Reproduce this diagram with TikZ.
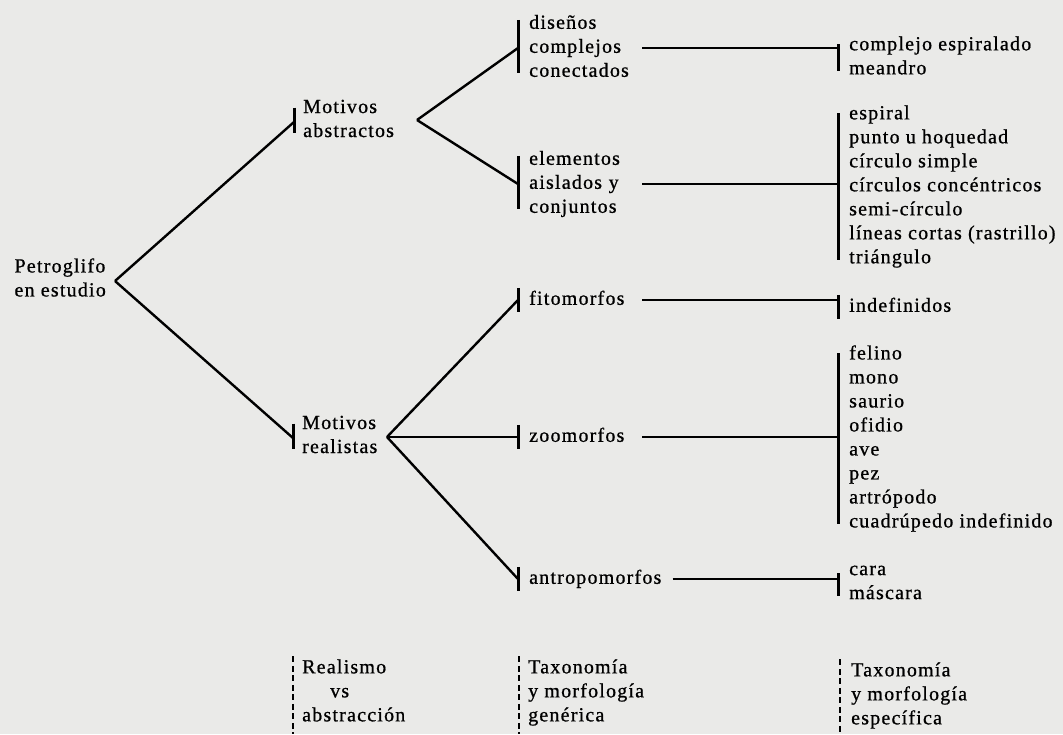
\documentclass[tikz,border=0pt]{standalone}
\usepackage{fontspec}
\newfontfamily\scanfont[LetterSpace=6, FakeBold=0.8]{Liberation Serif}
\usetikzlibrary{positioning}
\definecolor{paper}{RGB}{234,234,232}

\begin{document}
\begin{tikzpicture}[x=1pt,y=-1pt,
	every node/.style={font=\scanfont\fontsize{20}{24}\selectfont, inner xsep=9pt, inner ysep=0pt,
		align=left, anchor=west, execute at begin node=\strut, execute at end node=\strut},
	mid/.style={inner xsep=11pt, text width=102pt},
	spec/.style={inner xsep=11pt},
	link/.style={line width=2.4pt},
	bar/.style={line width=3pt, shorten <=8pt, shorten >=11pt},
	tallbar/.style={line width=3pt},
	guide/.style={line width=2.4pt, dash pattern=on 6pt off 3.5pt}]
	% Page %
	\fill [paper] (0,0) rectangle (1063,734);
	\useasboundingbox (0,0) rectangle (1063,734);
	\coordinate (pagebottom) at (0,734);
	% Root %
	\node [anchor=east] (root) at (115,281) {Petroglifo\\en estudio};
	% Motivos %
	\node (motabs) at (294,122) {Motivos\\abstractos};
	\node (motreal) at (293,438) {Motivos\\realistas};
	\coordinate (forkabs) at (417,120);
	\coordinate (forkreal) at (387,437);
	% Generic forms %
	\node [mid] (disenos) at (518,48) {diseños\\complejos\\conectados};
	\node [mid] (elementos) at (518,184) {elementos\\aislados y\\conjuntos};
	\node [mid] (fito) at (518,300) {fitomorfos};
	\node [mid] (zoo) at (518,437) {zoomorfos};
	\node [spec] (antropo) at (518,579) {antropomorfos};
	% Specific forms %
	\node [spec] (espiralado) at (838,59) {complejo espiralado\\meandro};
	\node [spec] (formas) at (838,188) {espiral\\punto u hoquedad\\círculo simple\\círculos concéntricos\\semi-círculo\\líneas cortas (rastrillo)\\triángulo};
	\node [spec] (indef) at (838,307) {indefinidos};
	\node [spec] (fauna) at (838,440) {felino\\mono\\saurio\\ofidio\\ave\\pez\\artrópodo\\cuadrúpedo indefinido};
	\node [spec] (cara) at (838,586) {cara\\máscara};
	% Levels %
	\node (realismo) at (293,694) {Realismo\\\hspace*{28pt}vs\\abstracción};
	\node (taxgen) at (519,694) {Taxonomía\\y morfología\\genérica};
	\node [spec] (taxesp) at (840,697) {Taxonomía\\y morfología\\específica};
	% Branches %
	\draw [link] (root.east) -- (motabs.west);
	\draw [link] (root.east) -- (motreal.west);
	\draw [link] (forkabs) -- (disenos.west);
	\draw [link] (forkabs) -- (elementos.west);
	\draw [link] (forkreal) -- (fito.west);
	\draw [link] (forkreal) -- (zoo.west);
	\draw [link] (forkreal) -- (antropo.west);
	\draw [link] (disenos.east) -- (disenos.east -| espiralado.west);
	\draw [link] (elementos.east) -- (elementos.east -| formas.west);
	\draw [link] (fito.east) -- (fito.east -| indef.west);
	\draw [link] (zoo.east) -- (zoo.east -| fauna.west);
	\draw [link] (antropo.east) -- (antropo.east -| cara.west);
	% Bars %
	\foreach \n in {motabs, motreal, disenos, elementos, espiralado, formas, fauna, cara}
		{\draw [bar] (\n.north west) -- (\n.south west);}
	\foreach \n in {fito, zoo, antropo, indef}
		{\draw [tallbar] (\n.north west) -- (\n.south west);}
	% Dashed guides %
	\foreach \n in {realismo, taxgen, taxesp}
		{\draw [guide] ([yshift=3pt]\n.north west) -- (\n.west |- pagebottom);}
\end{tikzpicture}
\end{document}
